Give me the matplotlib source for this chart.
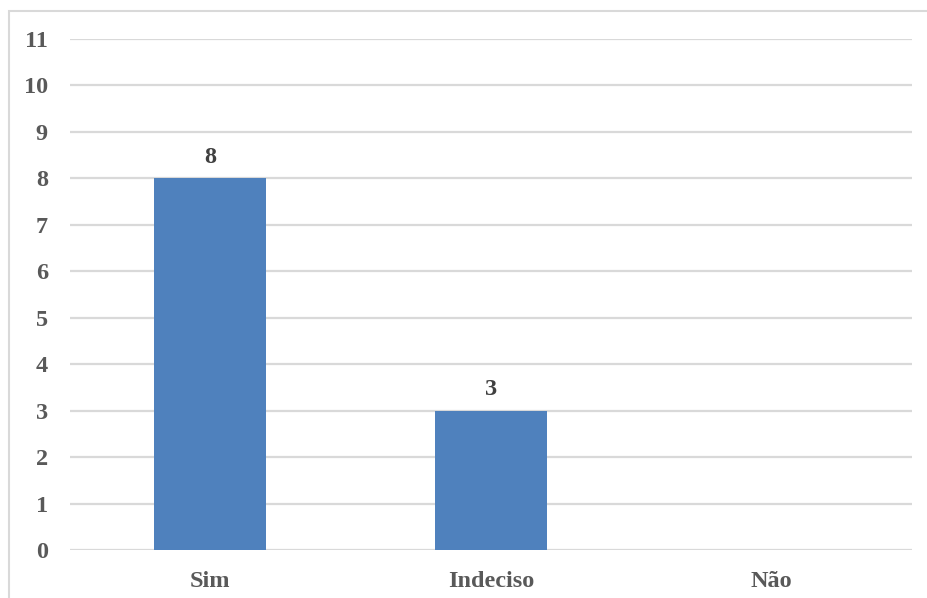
import matplotlib
matplotlib.use("Agg")
import matplotlib.pyplot as plt
from matplotlib.patches import Rectangle

categories = ["Sim", "Indeciso", "Não"]
values = [8, 3, 0]
yticks = list(range(0, 12))

plt.rcParams['font.family'] = ['Liberation Serif', 'DejaVu Serif']
txt = '#595959'

fig = plt.figure(figsize=(9.28, 5.98), dpi=100)
ax = fig.add_axes([70/928, 1-550/598, (912-70)/928, (550-39)/598])

x = list(range(len(categories)))
ax.bar(x, values, width=0.4, color='#4f81bd', zorder=3)
for xi, v in zip(x, values):
    if v > 0:
        ax.text(xi, v + 0.22, str(v), ha='center', va='bottom', fontsize=17.5,
                fontweight='bold', color='#404040')

ax.set_xlim(-0.5, 2.5)
ax.set_ylim(0, 11)
ax.set_yticks(yticks)
ax.set_yticklabels([str(t) for t in yticks], fontsize=17.5, fontweight='bold', color=txt)
ax.set_xticks(x)
ax.set_xticklabels(categories, fontsize=17.5, fontweight='bold', color=txt)
ax.yaxis.grid(True, color='#d9d9d9', linewidth=1.6, zorder=0)
ax.set_axisbelow(True)
for s in ax.spines.values():
    s.set_visible(False)
ax.tick_params(axis='both', length=0)
ax.tick_params(axis='y', pad=16)
ax.tick_params(axis='x', pad=15)

fig.patches.append(Rectangle((9/928, -0.01), 1.0, 1-11/598+0.01, transform=fig.transFigure,
                             fill=False, edgecolor='#d9d9d9', linewidth=1.5))

fig.savefig("out.png", dpi=100)
